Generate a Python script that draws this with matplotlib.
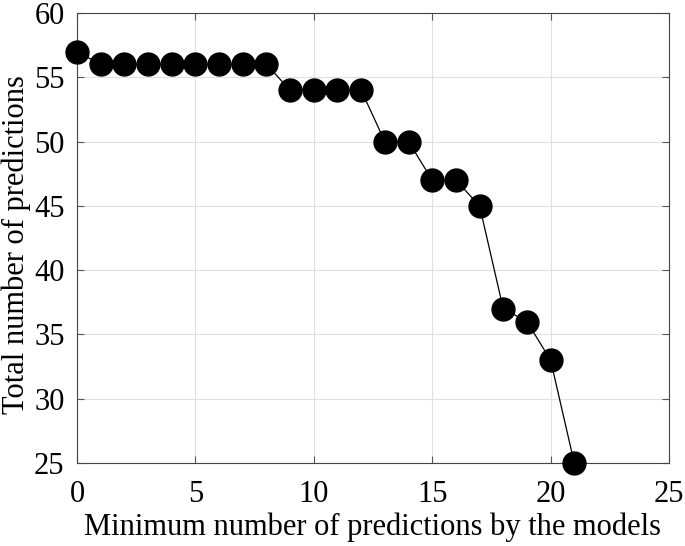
import matplotlib.pyplot as plt

min_preds = [0, 1, 2, 3, 4, 5, 6, 7, 8, 9, 10, 11, 12, 13, 14, 15, 16, 17, 18, 19, 20, 21]
total_preds = [57, 56, 56, 56, 56, 56, 56, 56, 56, 54, 54, 54, 54, 50, 50, 47, 47, 45, 37, 36, 33, 25]

plt.rcParams['font.family'] = 'Liberation Serif'
plt.rcParams['font.size'] = 22

fig = plt.figure(figsize=(6.85, 5.46), dpi=100)
ax = fig.add_axes([77 / 685, (546 - 463) / 546, (669 - 77) / 685, (463 - 13) / 546])

ax.plot(min_preds, total_preds, color='black', linewidth=0.9, marker='o',
        markersize=16.5, markerfacecolor='black', markeredgecolor='black', clip_on=False, zorder=3)

ax.set_xlim(0, 25)
ax.set_ylim(25, 60)
ax.set_xticks(range(0, 26, 5))
ax.set_yticks(range(25, 61, 5))
ax.grid(True, color='#e0e0e0', linewidth=0.8)
ax.set_axisbelow(True)
ax.tick_params(direction='in', top=True, right=True, length=5, width=0.8, color='#555555')
ax.tick_params(axis='x', pad=12)
ax.tick_params(axis='y', pad=9)
for s in ax.spines.values():
    s.set_color('#444444')
    s.set_linewidth(0.8)

ax.set_xlabel('Minimum number of predictions by the models', labelpad=3)
ax.set_ylabel('Total number of predictions')
ax.yaxis.set_label_coords(-0.078, 0.485)

fig.savefig('out.png', dpi=100)
